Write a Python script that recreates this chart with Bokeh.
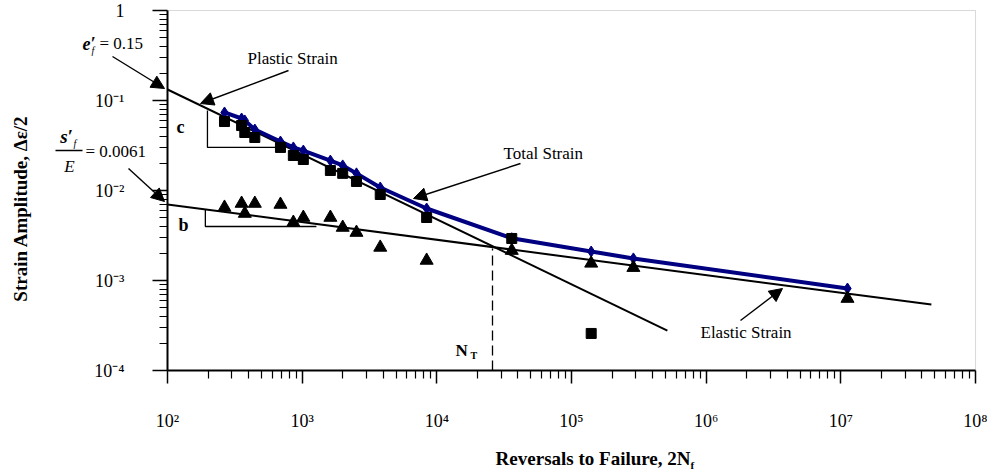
import math
from bokeh.plotting import figure
from bokeh.models import (Range1d, FixedTicker, Label, Arrow, NormalHead, BoxAnnotation)
from bokeh.embed import file_html
from bokeh.resources import INLINE

# ---------------- data ----------------
reversals = [265, 355, 375, 445, 690, 860, 1020, 1620, 2000, 2530, 3800,
             8400, 36000, 140000, 288000, 11200000]
plastic_amp = [0.0584, 0.0527, 0.0441, 0.0388, 0.0301, 0.0245, 0.0221, 0.0167,
               0.0155, 0.0126, 0.00903, 0.00501, 0.00293, 0.000258]
elastic_amp = [0.00648, 0.00717, 0.00555, 0.00717, 0.00699, 0.00441, 0.00501,
               0.00501, 0.00388, 0.00341, 0.00233, 0.00167, 0.00215, 0.00155,
               0.00139, 0.00063]
total_amp = [0.0736, 0.0631, 0.0600, 0.0476, 0.0350, 0.0301, 0.0278, 0.0215,
             0.0190, 0.0155, 0.0108, 0.00631, 0.00295, 0.0021, 0.00176, 0.000815]

plastic_fit_x = [100, 515000]
plastic_fit_y = [0.1325, 0.000278]
elastic_fit_x = [100, 47000000]
elastic_fit_y = [0.00699, 0.00054]

transition_x = [25900, 25900]
transition_y = [0.0001, 0.00227]

c_slope_x = [198, 198, 667]
c_slope_y = [0.0774, 0.0301, 0.0301]
b_slope_x = [191, 191, 1276]
b_slope_y = [0.00615, 0.00398, 0.00398]

x_ticks = [1e2, 1e3, 1e4, 1e5, 1e6, 1e7, 1e8]
x_tick_labels = ["10\u00b2", "10\u00b3", "10\u2074", "10\u2075", "10\u2076", "10\u2077", "10\u2078"]
y_ticks = [1e-4, 1e-3, 1e-2, 1e-1, 1.0]
y_tick_labels = ["10\u207b\u2074", "10\u207b\u00b3", "10\u207b\u00b2", "10\u207b\u00b9", "1"]

# ---------------- geometry of the chart box (pixels) ----------------
W, H = 987, 476
FX0, FY0 = 167, 10          # pixel of x=1e2 / y=1
DX, DY = 134.67, 90.0       # pixels per decade

def at(px, py):
    """pixel position on the page -> data coordinates (used for annotation placement)"""
    return 10 ** (2 + (px - FX0) / DX), 10 ** (-(py - FY0) / DY)

x_lo, y_hi = at(0, 0)
x_hi, y_lo = at(W, H)

p = figure(width=W, height=H, x_axis_type="log", y_axis_type="log",
           x_range=Range1d(x_lo, x_hi), y_range=Range1d(y_lo, y_hi),
           output_backend="svg", toolbar_location=None,
           min_border_left=0, min_border_right=0, min_border_top=0, min_border_bottom=0)
p.xgrid.visible = False
p.ygrid.visible = False
p.outline_line_color = None
p.background_fill_color = "white"
p.border_fill_color = "white"

FONT = "Liberation Serif"

def minor(decades):
    out = []
    for d in decades:
        for k in range(2, 10):
            out.append(k * 10.0 ** d)
    return out

# chart box (grey top / right border)
p.add_layout(BoxAnnotation(left=1e2, right=1e8, bottom=1e-4, top=1.0,
                           fill_alpha=0, line_color="#808080", line_width=1,
                           level="underlay"))

p.xaxis.fixed_location = 1e-4
p.yaxis.fixed_location = 1e2
p.xaxis.bounds = (1e2, 1e8)
p.yaxis.bounds = (1e-4, 1.0)
p.xaxis.ticker = FixedTicker(ticks=x_ticks, minor_ticks=minor(range(2, 8)))
p.yaxis.ticker = FixedTicker(ticks=y_ticks, minor_ticks=minor(range(-4, 0)))
p.xaxis.major_label_overrides = dict(zip(x_ticks, x_tick_labels))
p.yaxis.major_label_overrides = dict(zip(y_ticks, y_tick_labels))

for ax in (p.xaxis[0], p.yaxis[0]):
    ax.axis_line_color = "black"
    ax.axis_line_width = 2
    ax.major_tick_line_color = "black"
    ax.minor_tick_line_color = "black"
    ax.major_tick_line_width = 1.5
    ax.minor_tick_line_width = 1.2
    ax.major_tick_in = 0
    ax.minor_tick_in = 0
    ax.minor_tick_out = 8
    ax.major_label_text_font = FONT
    ax.major_label_text_font_size = "18px"
    ax.major_label_text_color = "black"
p.xaxis.major_tick_out = 13
p.yaxis.major_tick_out = 15
p.xaxis.major_label_standoff = 27
p.yaxis.major_label_standoff = 28

# ---------------- glyphs ----------------
p.line(plastic_fit_x, plastic_fit_y, line_color="black", line_width=2)
p.line(elastic_fit_x, elastic_fit_y, line_color="black", line_width=2)
p.line(c_slope_x, c_slope_y, line_color="black", line_width=1.3)
p.line(b_slope_x, b_slope_y, line_color="black", line_width=1.3)
p.line(transition_x, transition_y, line_color="black", line_width=1.3, line_dash="10 5")

p.line(reversals, total_amp, line_color="#000080", line_width=4)
p.scatter(reversals, total_amp, marker="diamond", size=11, color="#000080")

p.scatter(reversals[:len(plastic_amp)], plastic_amp, marker="square", size=10, color="black")
p.scatter(reversals, elastic_amp, marker="triangle", size=13, color="black")

# ---------------- annotations ----------------
def label(px, py, text, size="17px", style="normal", align="left", angle=0.0):
    x, y = at(px, py)
    p.add_layout(Label(x=x, y=y, text=text, text_font=FONT, text_font_size=size,
                       text_font_style=style, text_align=align, text_baseline="middle",
                       text_color="black", angle=angle))

def arrow(px0, py0, px1, py1, head=True):
    x0, y0 = at(px0, py0)
    x1, y1 = at(px1, py1)
    end = NormalHead(size=13, fill_color="black", line_color="black") if head else None
    p.add_layout(Arrow(end=end, x_start=x0, y_start=y0, x_end=x1, y_end=y1,
                       line_color="black", line_width=1.4))

# e'_f = 0.15
label(82, 43, "e\u2032", size="18px", style="bold italic")
label(91, 50, "f", size="10px", style="italic")
label(99, 43, "= 0.15", size="17px")
arrow(112, 56, 164, 88)

# s'_f / E = 0.0061
label(66, 136, "s\u2032", size="19px", style="bold italic", align="center")
label(73, 143, "f", size="10px", style="italic")
arrow(55, 150, 82, 150, head=False)
label(69, 166, "E", size="17px", style="italic", align="center")
label(85, 151, "= 0.0061", size="17px")
arrow(128, 168, 164, 201)

# slope labels
label(180, 126, "c", size="18px", style="bold", align="center")
label(183, 224, "b", size="18px", style="bold", align="center")

# strain labels
label(247, 58, "Plastic Strain", size="17px")
arrow(288, 70, 200, 103)
label(503, 153, "Total Strain", size="17px")
arrow(520, 163, 413, 198)
label(700, 332, "Elastic Strain", size="17px")
arrow(740, 320, 782, 288)

# N_T
label(455, 350, "N", size="17px", style="bold")
label(470, 355, "T", size="10px", style="bold")

# axis titles
label(690, 458, "Reversals to Failure, 2N", size="19px", style="bold", align="right")
label(690, 464, "f", size="11px", style="bold")
label(20, 208, "Strain Amplitude, \u0394\u03b5/2", size="19px", style="bold",
      align="center", angle=math.pi / 2)

open("out.html", "w").write(file_html(p, INLINE))
